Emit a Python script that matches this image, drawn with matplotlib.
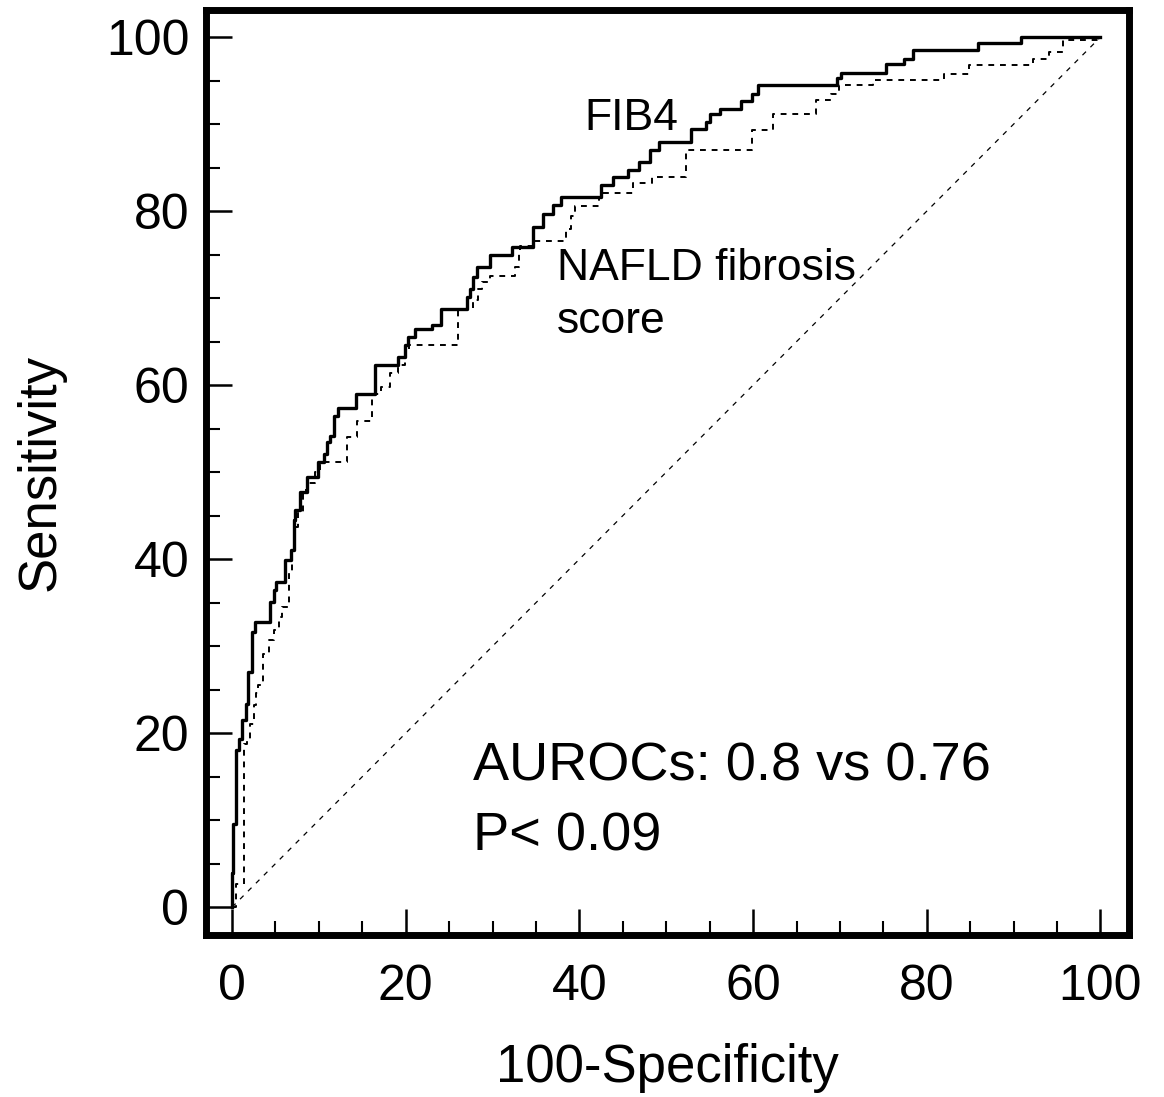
import numpy as np
import matplotlib

matplotlib.use("Agg")
import matplotlib.pyplot as plt
from matplotlib.ticker import MultipleLocator

plt.rcParams["font.family"] = ["Liberation Sans", "DejaVu Sans"]

# ROC corner points (100-specificity, sensitivity)
fib4_fpr = [0, 0.0, 0.15, 0.4, 0.8, 1.1, 1.6, 1.8, 2.3, 2.65, 4.4, 4.8, 5.1, 6.1,
            6.8, 7.1, 7.2, 7.8, 8.6, 9.9, 10.6, 10.9, 11.3, 11.7, 12.2, 14.3,
            16.5, 19.1, 19.9, 20.3, 21.1, 23.0, 24.1, 27.0, 27.4, 27.8, 28.2,
            29.7, 32.2, 34.7, 35.8, 37.0, 37.9, 42.5, 43.9, 45.6, 46.9, 48.1,
            49.2, 52.9, 54.6, 55.0, 56.2, 58.6, 59.9, 60.6, 69.7, 70.1, 75.3,
            77.4, 78.4, 85.9, 90.8, 100]
fib4_tpr = [0, 3.9, 9.5, 18.1, 19.3, 21.5, 23.3, 27.0, 31.6, 32.8, 35.1, 36.4,
            37.4, 39.9, 41.0, 44.5, 45.6, 47.7, 49.5, 51.2, 52.1, 53.5, 54.1,
            56.5, 57.4, 59.0, 62.3, 63.2, 64.6, 65.5, 66.5, 66.9, 68.8, 70.1,
            71.1, 72.4, 73.6, 75.0, 75.9, 78.2, 79.7, 80.7, 81.6, 83.0, 83.9,
            84.7, 85.7, 87.0, 87.9, 89.5, 90.3, 91.2, 91.8, 92.7, 93.5, 94.5,
            95.3, 95.9, 96.9, 97.5, 98.5, 99.3, 100, 100]

nfs_fpr = [0, 0.5, 1.4, 1.7, 2.1, 2.5, 2.8, 3.0, 3.6, 4.2, 4.8, 5.4, 5.8, 6.6,
           6.9, 7.2, 7.6, 8.2, 8.6, 9.5, 10.1, 13.2, 14.4, 16.1, 17.2, 18.2,
           19.1, 19.9, 20.4, 26.0, 27.8, 28.3, 28.8, 29.7, 32.6, 33.0, 33.2,
           34.7, 38.5, 39.0, 39.5, 42.3, 42.6, 46.2, 48.4, 52.3, 59.9, 62.3,
           67.2, 69.0, 69.9, 73.8, 82.0, 84.9, 92.2, 94.1, 95.7, 100]
nfs_tpr = [0, 2.7, 18.8, 19.2, 21.1, 23.2, 24.6, 25.5, 29.1, 30.7, 31.8, 33.4,
           34.5, 38.6, 41.2, 43.7, 45.4, 47.9, 48.8, 50.0, 51.2, 54.0, 55.9,
           59.0, 59.8, 61.4, 62.3, 63.8, 64.6, 68.8, 69.8, 71.0, 71.9, 72.5,
           73.6, 75.2, 76.0, 76.6, 78.0, 79.5, 80.6, 81.6, 82.1, 83.2, 83.9,
           87.0, 89.3, 91.2, 92.8, 93.5, 94.5, 95.1, 95.8, 96.8, 97.5, 98.3,
           99.7, 100]

ticks = [0, 20, 40, 60, 80, 100]

fig = plt.figure(figsize=(11.64, 10.97), dpi=100)
ax = fig.add_axes([0.177, 0.1477, 0.793, 0.843])

# chance line, then the two ROC staircases
ax.plot([0, 100], [0, 100], color="black", lw=0.9, dashes=(4, 5))
ax.plot(nfs_fpr, nfs_tpr, color="black", lw=1.4, dashes=(3, 3),
        drawstyle="steps-post")
ax.plot(fib4_fpr, fib4_tpr, color="black", lw=2.4, drawstyle="steps-post")

ax.set_xlim(-3.0, 103.3)
ax.set_ylim(-3.2, 103.1)
ax.set_xticks(ticks)
ax.set_yticks(ticks)
ax.xaxis.set_minor_locator(MultipleLocator(5))
ax.yaxis.set_minor_locator(MultipleLocator(5))
ax.tick_params(which="major", direction="in", length=19, width=1.8,
               labelsize=36, pad=12)
ax.tick_params(which="minor", direction="in", length=10, width=1.5)
ax.tick_params(axis="x", which="major", pad=21)
for s in ax.spines.values():
    s.set_linewidth(5)

ax.set_xlabel("100-Specificity", fontsize=38, labelpad=24)
ax.set_ylabel("Sensitivity", fontsize=38, labelpad=29)

ax.text(40.6, 89.3, "FIB4", fontsize=32, va="baseline")
ax.text(37.4, 72.1, "NAFLD fibrosis", fontsize=32, va="baseline")
ax.text(37.4, 66.0, "score", fontsize=32, va="baseline")
ax.text(27.7, 14.6, "AUROCs: 0.8 vs 0.76", fontsize=39, va="baseline")
ax.text(27.7, 6.5, "P< 0.09", fontsize=39, va="baseline")

fig.savefig("out.png", dpi=100)
